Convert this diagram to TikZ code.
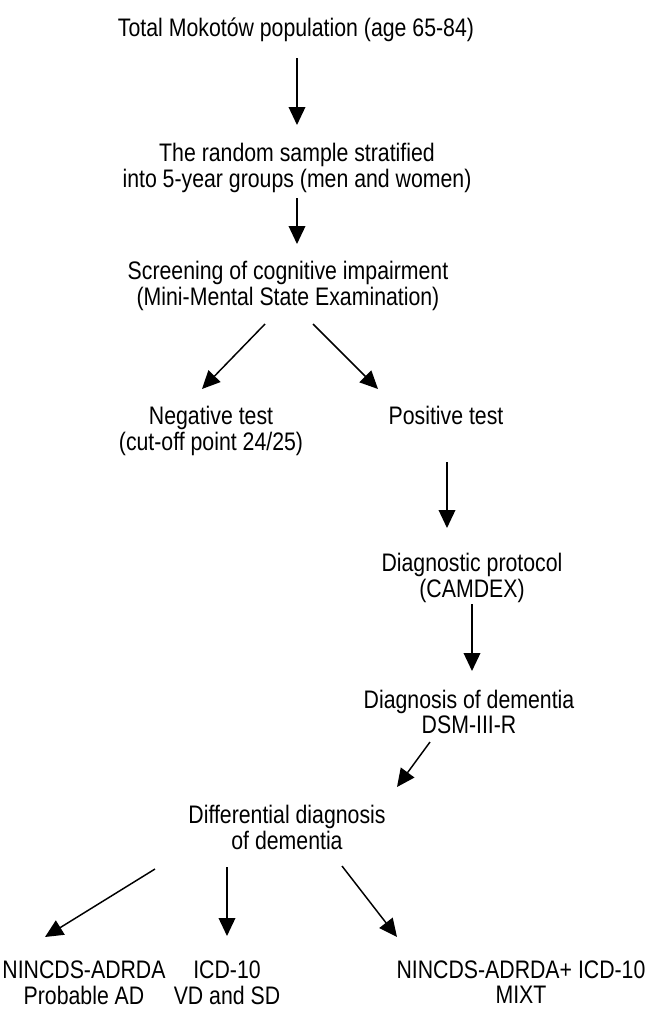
\documentclass[tikz,border=0pt]{standalone}
\usepackage{fontspec}
\setmainfont[FakeStretch=0.84]{Liberation Sans}
\usetikzlibrary{arrows.meta}
\newcommand{\twol}[2]{\begin{tabular}[t]{@{}c@{}}#1\\#2\end{tabular}}
\tikzset{
  lbl/.style={anchor=base, inner sep=0pt, font=\fontsize{19pt}{19.1pt}\selectfont},
  arr/.style={line width=1.1pt, -{Triangle[length=13.5pt,width=12.5pt]}},
}
\begin{document}
\begin{tikzpicture}[x=0.75pt,y=-0.75pt]
\useasboundingbox (0,0) rectangle (647,1033);
% text nodes (positions = first baseline)
\node[lbl] (t1) at (296,36) {Total Mokotów population (age 65-84)};
\node[lbl] (t2) at (297,161) {\twol{The random sample stratified}{into 5-year groups (men and women)}};
\node[lbl] (t3) at (288,279) {\twol{Screening of cognitive impairment}{(Mini-Mental State Examination)}};
\node[lbl] (t4l) at (211,424) {\twol{Negative test}{(cut-off point 24/25)}};
\node[lbl] (t4r) at (446,424) {Positive test};
\node[lbl] (t5) at (472,571) {\twol{Diagnostic protocol}{(CAMDEX)}};
\node[lbl] (t6) at (469,708) {\twol{Diagnosis of dementia}{DSM-III-R}};
\node[lbl] (t7) at (287,823) {\twol{Differential diagnosis}{of dementia}};
\node[lbl] (t8l) at (84,978) {\twol{NINCDS-ADRDA}{Probable AD}};
\node[lbl] (t8m) at (227,978) {\twol{ICD-10}{VD and SD}};
\node[lbl] (t8r) at (521,978) {\twol{NINCDS-ADRDA+ ICD-10}{MIXT}};
% connector ends
\coordinate (a1s) at (297,58);  \coordinate (a1e) at (297,125);
\coordinate (a2s) at (297,198); \coordinate (a2e) at (297,244);
\coordinate (a3ls) at (265,324); \coordinate (a3le) at (202,389);
\coordinate (a3rs) at (313,324); \coordinate (a3re) at (378,389);
\coordinate (a4s) at (447,462); \coordinate (a4e) at (447,528);
\coordinate (a5s) at (472,604); \coordinate (a5e) at (472,671);
\coordinate (a6s) at (430,742); \coordinate (a6e) at (397,787);
\coordinate (a7ls) at (155,869); \coordinate (a7le) at (45,937);
\coordinate (a7ms) at (227,867); \coordinate (a7me) at (227,936);
\coordinate (a7rs) at (342,866); \coordinate (a7re) at (397,937);
\draw[arr] (a1s) -- (a1e);
\draw[arr] (a2s) -- (a2e);
\draw[arr] (a3ls) -- (a3le);
\draw[arr] (a3rs) -- (a3re);
\draw[arr] (a4s) -- (a4e);
\draw[arr] (a5s) -- (a5e);
\draw[arr] (a6s) -- (a6e);
\draw[arr] (a7ls) -- (a7le);
\draw[arr] (a7ms) -- (a7me);
\draw[arr] (a7rs) -- (a7re);
\end{tikzpicture}
\end{document}
